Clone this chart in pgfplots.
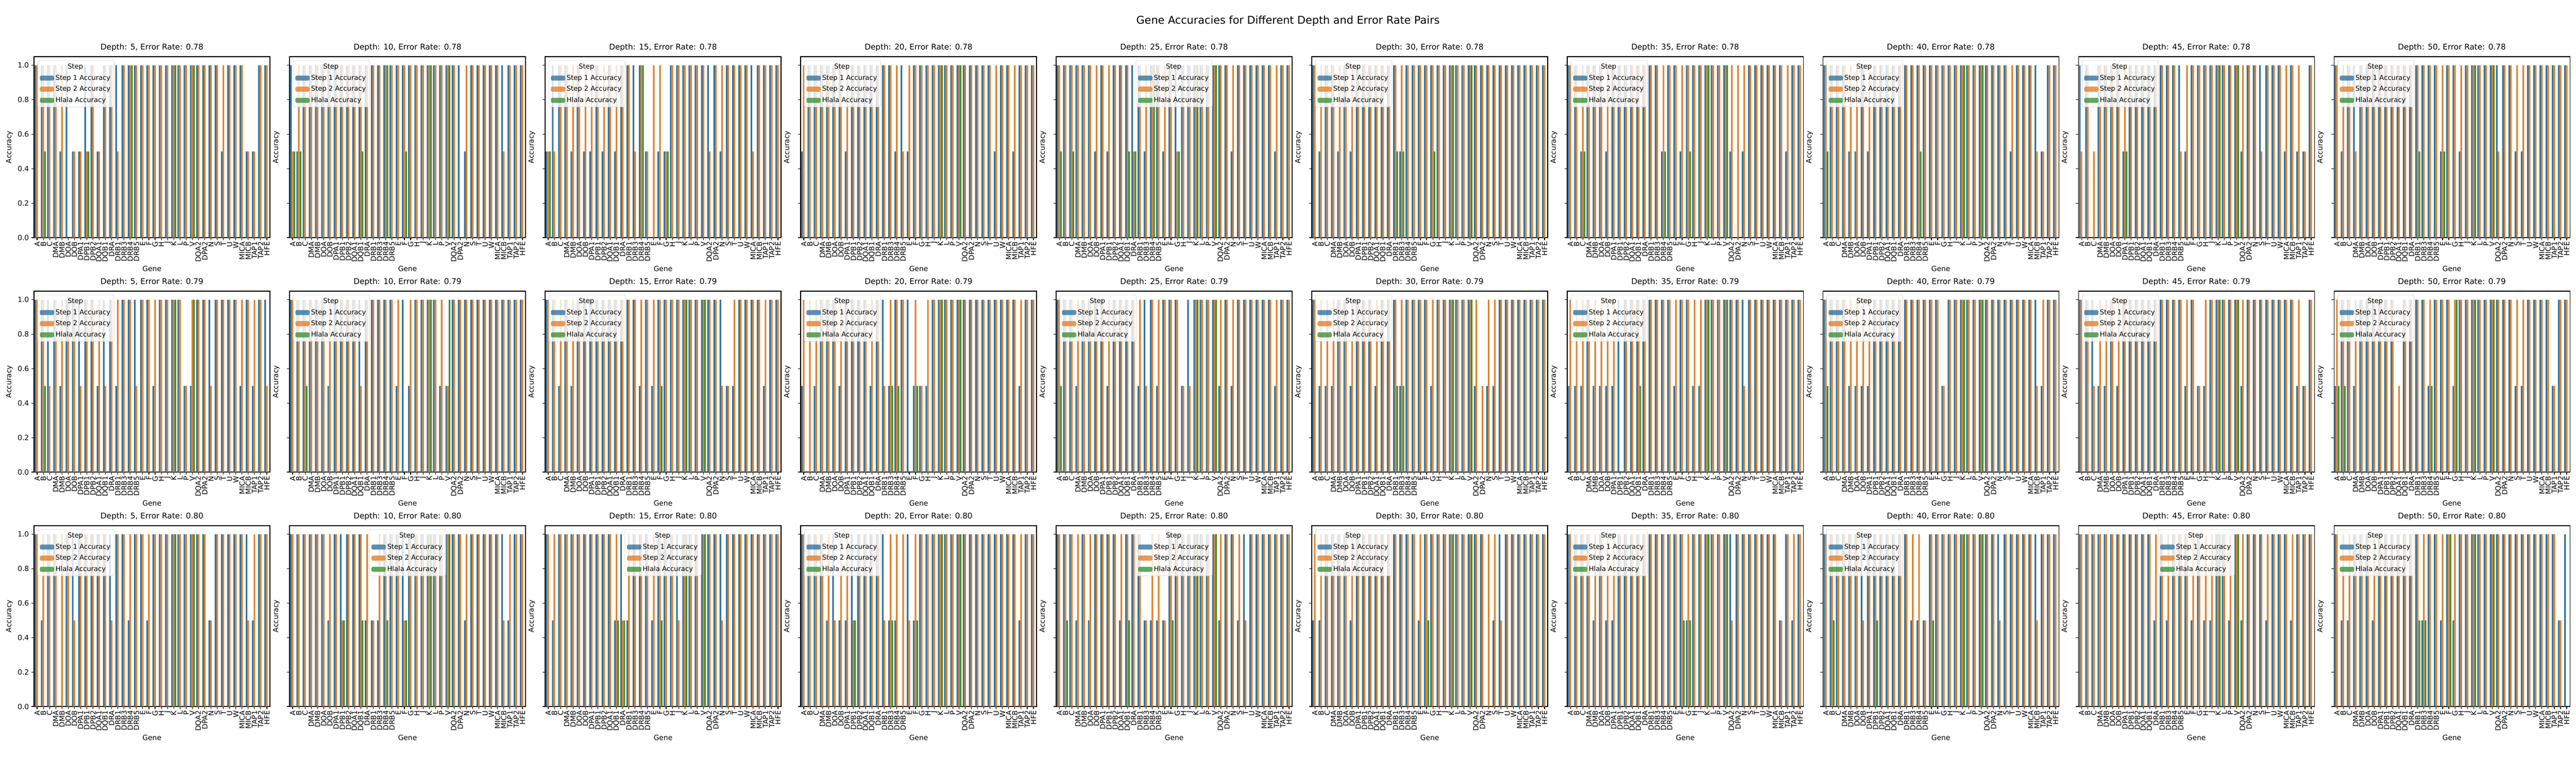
\documentclass[border=0pt]{standalone}
\usepackage{fontspec}
\setmainfont{DejaVu Sans}
\usepackage{pgfplots}
\usepackage{pgfplotstable}
\pgfplotsset{compat=1.18}
\definecolor{c1}{HTML}{3274A1}
\definecolor{c2}{HTML}{E1812C}
\definecolor{c3}{HTML}{3A923A}
\pgfplotsset{
  bleg/.style={legend image code/.code={\fill[##1] (0pt,-3.5pt) rectangle (20pt,3.5pt);}},
  panel/.style={scale only axis, width=331pt, height=253.7pt, anchor=north west,
    ybar, bar width=0.2667, xmin=-0.5, xmax=37.5, ymin=0, ymax=1.05,
    xtick={0,...,37},
    xticklabels={A,B,C,DMA,DMB,DOA,DOB,DPA1,DPB1,DPB2,DQA1,DQB1,DRA,DRB1,DRB3,DRB4,DRB5,E,F,G,H,J,K,L,P,V,DQA2,DPA2,N,S,T,U,W,MICA,MICB,TAP1,TAP2,HFE},
    xticklabel style={rotate=90, anchor=east, font=\fontsize{10}{10}\selectfont, inner sep=2pt},
    ytick={0,0.2,0.4,0.6,0.8,1},
    yticklabel style={font=\fontsize{10}{10}\selectfont, /pgf/number format/fixed, /pgf/number format/fixed zerofill, /pgf/number format/precision=1, /pgf/number format/assume math mode=true},
    tick align=outside, tick pos=left, major tick length=3.5pt,
    major tick style={line width=0.8pt, black}, axis line style={line width=0.8pt},
    xlabel={Gene}, ylabel={Accuracy},
    label style={font=\fontsize{10}{12}\selectfont},
    title style={font=\fontsize{11}{13}\selectfont, yshift=-2pt},
    legend cell align=left,
    legend style={fill=white, fill opacity=0.8, text opacity=1, draw opacity=1,
      draw=black!20, rounded corners=2pt, inner sep=3pt, row sep=3pt,
      font=\fontsize{9.5}{11}\selectfont},
    legend entries={\hspace*{17pt}Step, Step 1 Accuracy, Step 2 Accuracy, Hlala Accuracy},
  },
  legL/.style={legend style={at={(0,1)}, anchor=north west, xshift=5pt, yshift=-5pt}},
  legC/.style={legend style={at={(0.5,1)}, anchor=north, yshift=-5pt}},
  noy/.style={yticklabels={}},
}
\newcommand{\panel}[5]{%
\begin{axis}[panel, at={({(66+496*#1)*0.7227pt},{(1500-(110+455*#2))*0.7227pt})}, title={#4}, #5]
\addlegendimage{empty legend}
\addplot[fill=c1, draw=none, bar shift=-0.2667, bleg] table[x expr=\coordindex, y=a] {#3};
\addplot[fill=c2, draw=none, bar shift=0, bleg] table[x expr=\coordindex, y=b] {#3};
\addplot[fill=c3, draw=none, bar shift=0.2667, bleg] table[x expr=\coordindex, y=h] {#3};
\end{axis}}

% ---------- row 1: error rate 0.78
\pgfplotstableread[row sep=\\]{a b h\\
1 1 0\\ 1 1 .5\\ 1 1 0\\ 1 1 0\\ .5 1 0\\ 1 0 0\\ .5 .5 0\\ .5 .5 0\\ 1 .5 .5\\ 1 1 0\\
.5 .5 0\\ 1 1 0\\ 1 1 0\\ 1 .5 0\\ 1 1 0\\ 1 1 1\\ 1 1 0\\ 1 1 0\\ 1 1 0\\ 1 1 0\\
1 1 0\\ 1 1 0\\ 1 1 1\\ 1 1 0\\ 1 1 0\\ 1 1 1\\ 1 1 0\\ 1 1 0\\ 1 1 0\\ 1 1 0\\
.5 1 0\\ 1 1 0\\ 1 1 0\\ 1 1 0\\ .5 .5 0\\ .5 .5 0\\ 1 1 0\\ 1 1 0\\}\pAa
\pgfplotstableread[row sep=\\]{a b h\\
1 .5 .5\\ .5 1 .5\\ 1 1 0\\ 1 1 0\\ 1 1 0\\ 1 1 0\\ 1 1 0\\ 1 1 0\\ 1 1 0\\ 1 1 0\\
1 1 0\\ 1 1 .5\\ 1 1 0\\ 1 1 0\\ 1 1 0\\ 1 1 1\\ 1 1 0\\ 1 1 0\\ 1 1 .5\\ 1 1 0\\
1 1 0\\ 1 1 0\\ 1 1 1\\ 1 1 0\\ 1 1 0\\ 1 1 1\\ 1 1 0\\ 1 0 0\\ .5 1 0\\ 1 1 0\\
1 1 0\\ 1 1 0\\ 1 1 0\\ 1 1 0\\ 1 .5 0\\ 1 1 0\\ 1 1 0\\ 1 1 0\\}\pAb
\pgfplotstableread[row sep=\\]{a b h\\
.5 .5 .5\\ 1 .5 0\\ 1 1 0\\ 1 1 0\\ .5 1 0\\ 1 1 0\\ .5 1 0\\ .5 1 0\\ 1 1 0\\ .5 1 0\\
1 1 0\\ .5 1 0\\ 1 1 0\\ 1 1 0\\ 1 .5 0\\ 1 1 1\\ .5 .5 0\\ 0 1 0\\ .5 1 0\\ .5 .5 .5\\
1 1 0\\ 1 1 0\\ 1 1 0\\ 1 1 0\\ 1 1 0\\ 1 1 0\\ 1 .5 0\\ 1 1 0\\ .5 1 0\\ 1 1 0\\
1 1 0\\ 1 1 0\\ 1 1 0\\ 1 .5 0\\ 1 1 0\\ 1 1 0\\ 1 1 0\\ 1 1 0\\}\pAc
\pgfplotstableread[row sep=\\]{a b h\\
.5 1 0\\ 1 1 0\\ 1 1 0\\ 1 1 0\\ 1 1 0\\ 1 1 0\\ 1 1 0\\ .5 1 0\\ 1 1 0\\ 1 1 0\\
1 1 0\\ 1 1 0\\ 1 1 0\\ 1 1 0\\ 1 1 0\\ .5 1 0\\ 1 .5 0\\ .5 1 0\\ 1 1 0\\ 1 1 0\\
1 1 0\\ 1 1 0\\ 1 1 1\\ 1 1 0\\ 1 1 0\\ 1 1 1\\ 1 1 0\\ 1 1 0\\ 1 1 0\\ 1 1 0\\
1 1 0\\ .5 1 0\\ 1 1 0\\ 1 1 0\\ .5 1 0\\ 1 1 0\\ 1 1 0\\ 1 1 0\\}\pAd
\pgfplotstableread[row sep=\\]{a b h\\
1 1 .5\\ 1 1 0\\ 1 1 .5\\ 1 1 0\\ 1 1 0\\ 1 1 0\\ .5 1 0\\ 1 1 0\\ .5 1 0\\ 1 1 0\\
1 1 0\\ 1 1 .5\\ 1 .5 .5\\ 1 1 0\\ .5 1 0\\ 1 1 1\\ 1 1 0\\ .5 1 0\\ 1 1 0\\ 1 .5 .5\\
1 1 0\\ 1 1 0\\ 1 1 1\\ 1 1 0\\ 1 1 0\\ 1 1 1\\ 1 1 0\\ 1 1 0\\ .5 1 0\\ 1 1 0\\
1 1 0\\ 1 1 0\\ 1 1 0\\ 1 1 0\\ 1 1 0\\ .5 1 0\\ 1 1 0\\ 1 1 0\\}\pAe
\pgfplotstableread[row sep=\\]{a b h\\
1 1 0\\ .5 1 0\\ 1 1 0\\ 1 1 0\\ .5 1 0\\ 1 1 0\\ .5 1 0\\ 1 1 0\\ 1 1 0\\ 1 1 0\\
1 1 0\\ 1 1 0\\ 1 1 0\\ 1 1 .5\\ .5 1 .5\\ 1 1 0\\ 1 1 0\\ 1 1 0\\ 1 1 0\\ 1 1 .5\\
1 1 0\\ 1 1 0\\ 1 1 1\\ 1 1 0\\ 1 1 0\\ 1 1 1\\ 1 1 0\\ 1 1 0\\ 1 1 0\\ 1 1 0\\
1 1 0\\ 1 1 0\\ 1 1 0\\ 1 1 0\\ 1 1 0\\ 1 1 0\\ 1 1 0\\ 1 1 0\\}\pAf
\pgfplotstableread[row sep=\\]{a b h\\
1 1 0\\ 1 1 0\\ .5 1 .5\\ 1 1 0\\ 1 1 0\\ 1 1 0\\ .5 1 0\\ 1 1 0\\ 1 1 0\\ 1 1 0\\
1 1 0\\ 1 1 0\\ 1 1 0\\ 1 1 0\\ 1 1 0\\ .5 1 .5\\ 1 1 0\\ 1 1 0\\ .5 1 0\\ 1 1 .5\\
1 1 0\\ 1 1 0\\ 1 1 1\\ 1 1 0\\ 1 1 0\\ 1 1 1\\ .5 1 0\\ 0 1 0\\ .5 1 0\\ 1 1 0\\
1 1 0\\ 1 1 0\\ 1 1 0\\ 1 1 0\\ 1 1 0\\ .5 1 0\\ 1 1 0\\ 1 1 0\\}\pAg
\pgfplotstableread[row sep=\\]{a b h\\
1 1 .5\\ 1 1 0\\ 1 1 0\\ 1 1 0\\ .5 1 0\\ .5 1 0\\ 1 1 0\\ .5 1 0\\ 1 1 0\\ 1 1 0\\
1 1 0\\ 1 1 0\\ 1 1 0\\ 1 1 0\\ 1 1 0\\ 1 1 .5\\ 1 1 0\\ 1 1 0\\ 1 1 0\\ 1 1 0\\
1 1 0\\ 1 1 0\\ 1 1 1\\ 1 1 0\\ 1 1 0\\ 1 1 1\\ 1 1 0\\ 1 1 0\\ 1 1 0\\ 1 1 0\\
.5 1 0\\ 1 1 0\\ 1 1 0\\ 1 1 0\\ 1 .5 0\\ .5 .5 0\\ 1 1 0\\ 1 1 0\\}\pAh
\pgfplotstableread[row sep=\\]{a b h\\
1 .5 0\\ 1 1 0\\ 0 .5 0\\ 1 1 0\\ 1 1 0\\ 1 1 0\\ 1 1 0\\ .5 1 .5\\ 1 1 0\\ 1 1 0\\
1 1 0\\ 1 1 0\\ 1 1 0\\ 1 1 0\\ 1 1 0\\ 1 1 0\\ 1 .5 0\\ .5 1 0\\ 1 1 0\\ 1 1 0\\
1 1 0\\ 1 1 0\\ 1 1 1\\ 1 1 0\\ 1 1 0\\ 1 1 1\\ .5 1 0\\ 1 1 0\\ 1 1 0\\ 1 .5 0\\
1 1 0\\ 1 1 0\\ 1 1 0\\ .5 1 0\\ 1 1 0\\ .5 1 0\\ .5 .5 0\\ 1 1 0\\}\pAi
\pgfplotstableread[row sep=\\]{a b h\\
1 1 0\\ .5 1 0\\ 1 1 0\\ 1 .5 0\\ 1 1 0\\ 1 1 0\\ 1 1 0\\ 1 1 0\\ 1 1 0\\ 1 1 0\\
1 1 0\\ 1 1 0\\ 1 1 0\\ 1 1 .5\\ 1 1 0\\ 1 1 0\\ 1 1 0\\ .5 1 .5\\ 1 1 0\\ 1 1 0\\
.5 1 0\\ 1 1 0\\ 1 1 1\\ 1 1 0\\ 1 1 0\\ 1 1 1\\ 1 .5 0\\ 1 1 0\\ 1 1 0\\ .5 1 0\\
.5 1 0\\ 1 1 0\\ 1 1 0\\ 1 1 0\\ 1 1 0\\ 1 1 0\\ 1 1 0\\ 1 1 0\\}\pAj

% ---------- row 2: error rate 0.79
\pgfplotstableread[row sep=\\]{a b h\\
1 1 0\\ 1 1 .5\\ 1 .5 0\\ 1 1 0\\ .5 1 0\\ 1 1 0\\ 1 1 0\\ 1 .5 0\\ 1 1 0\\ 1 1 0\\
.5 1 0\\ 1 .5 0\\ 1 1 0\\ .5 1 0\\ 1 1 0\\ 1 1 0\\ 1 .5 0\\ 1 1 0\\ 1 1 0\\ .5 1 0\\
1 1 0\\ 1 1 0\\ 1 1 1\\ 1 1 0\\ .5 .5 0\\ .5 1 1\\ 1 1 0\\ 1 1 0\\ 1 .5 0\\ 1 1 0\\
1 1 0\\ 1 1 0\\ 1 1 0\\ .5 1 0\\ 1 1 0\\ .5 1 0\\ 1 1 0\\ 1 .5 0\\}\pBa
\pgfplotstableread[row sep=\\]{a b h\\
1 1 0\\ 1 1 0\\ 1 1 .5\\ 1 1 0\\ 1 1 0\\ 1 1 0\\ .5 1 0\\ 1 1 0\\ 1 1 0\\ 1 1 0\\
1 1 0\\ 1 .5 0\\ 1 1 0\\ 1 1 0\\ 1 1 0\\ 1 1 0\\ 1 1 0\\ .5 1 0\\ 1 0 0\\ .5 1 0\\
1 1 0\\ 1 1 0\\ 1 1 1\\ 1 1 0\\ .5 1 0\\ .5 .5 1\\ 1 1 0\\ 1 1 0\\ 1 1 0\\ 1 1 0\\
1 1 0\\ 1 1 0\\ 1 1 0\\ 1 1 0\\ 1 1 0\\ 1 1 0\\ 1 1 0\\ 1 1 0\\}\pBb
\pgfplotstableread[row sep=\\]{a b h\\
1 1 0\\ 1 1 0\\ .5 1 0\\ 1 1 0\\ .5 1 0\\ 1 1 0\\ 1 1 0\\ 1 1 0\\ 1 1 0\\ 1 1 0\\
1 1 0\\ 1 1 0\\ 1 1 0\\ 1 1 0\\ 1 1 0\\ .5 1 0\\ 1 1 0\\ .5 1 0\\ 1 1 .5\\ 1 1 0\\
1 1 0\\ 1 1 0\\ 1 1 1\\ 1 1 0\\ 1 1 0\\ 1 1 1\\ 1 1 0\\ 1 1 0\\ 1 .5 0\\ .5 .5 0\\
.5 1 0\\ 1 1 0\\ 1 1 0\\ 1 1 0\\ 1 1 0\\ .5 1 0\\ 1 1 0\\ 1 1 0\\}\pBc
\pgfplotstableread[row sep=\\]{a b h\\
.5 1 0\\ 0 1 0\\ .5 1 0\\ 1 1 0\\ 1 1 0\\ 1 1 0\\ .5 1 0\\ 1 1 0\\ 1 1 0\\ 1 1 0\\
1 1 0\\ .5 1 0\\ 1 1 0\\ 1 .5 0\\ .5 1 .5\\ 1 1 .5\\ 1 1 0\\ 1 0 0\\ .5 1 .5\\ .5 .5 0\\
.5 1 0\\ 1 1 0\\ 1 1 1\\ 1 1 0\\ 1 1 0\\ 1 1 1\\ 1 1 0\\ 1 1 0\\ 1 1 0\\ 1 1 0\\
1 1 0\\ 1 1 0\\ 1 1 0\\ 1 1 0\\ 1 1 0\\ .5 1 0\\ 1 1 0\\ 1 1 0\\}\pBd
\pgfplotstableread[row sep=\\]{a b h\\
1 1 .5\\ 1 1 0\\ 1 1 0\\ .5 1 0\\ 1 1 0\\ 1 1 0\\ 1 1 0\\ 1 1 0\\ .5 1 0\\ 1 1 0\\
1 1 0\\ 1 1 0\\ 1 1 0\\ .5 1 0\\ 1 .5 0\\ 1 1 0\\ .5 1 0\\ 1 1 0\\ 1 1 0\\ 1 1 0\\
.5 .5 0\\ 1 .5 0\\ 1 1 1\\ 1 1 0\\ 1 1 0\\ 1 1 1\\ .5 1 0\\ 1 1 0\\ .5 1 0\\ 1 1 0\\
1 1 0\\ 1 1 0\\ 1 1 0\\ 1 1 0\\ 1 1 0\\ .5 1 0\\ 1 1 0\\ 1 1 0\\}\pBe
\pgfplotstableread[row sep=\\]{a b h\\
1 1 0\\ .5 1 0\\ .5 1 0\\ .5 1 0\\ 1 1 0\\ 1 1 0\\ .5 1 0\\ 1 1 0\\ 1 1 0\\ 1 1 0\\
.5 1 0\\ 1 1 0\\ 1 1 0\\ 1 1 .5\\ .5 1 .5\\ 1 1 0\\ 1 1 0\\ 1 1 0\\ 1 1 0\\ .5 1 0\\
1 1 0\\ 1 1 0\\ 1 1 1\\ 1 1 0\\ 1 1 0\\ 1 1 1\\ .5 1 0\\ 0 .5 0\\ .5 1 0\\ .5 1 0\\
1 1 0\\ 1 1 0\\ 1 1 0\\ 1 1 0\\ 1 1 0\\ 1 1 0\\ 1 1 0\\ 1 1 0\\}\pBf
\pgfplotstableread[row sep=\\]{a b h\\
.5 1 0\\ .5 1 0\\ .5 1 0\\ 1 1 0\\ .5 1 0\\ .5 1 0\\ .5 1 0\\ .5 1 0\\ 1 0 0\\ 1 1 0\\
1 1 0\\ 1 1 .5\\ 1 1 0\\ 1 1 0\\ 1 1 0\\ 1 1 0\\ 1 1 0\\ .5 1 0\\ 1 1 0\\ 1 1 0\\
.5 1 0\\ .5 1 0\\ 1 1 1\\ 1 1 0\\ 1 1 0\\ 1 1 1\\ 1 1 0\\ 1 1 0\\ 1 .5 0\\ 1 1 0\\
1 1 0\\ 1 1 0\\ 1 1 0\\ 1 1 0\\ 1 1 0\\ 1 1 0\\ 1 1 0\\ 1 1 0\\}\pBg
\pgfplotstableread[row sep=\\]{a b h\\
1 1 .5\\ 1 1 0\\ 1 1 0\\ 1 1 0\\ .5 1 0\\ .5 1 0\\ .5 1 0\\ .5 1 0\\ 1 1 0\\ 1 1 0\\
1 1 0\\ 1 1 0\\ 1 1 0\\ 1 1 0\\ 1 1 0\\ 1 1 0\\ 1 1 0\\ 1 1 0\\ 1 1 0\\ .5 .5 0\\
1 1 0\\ 1 1 0\\ 1 1 1\\ 1 1 0\\ 1 1 0\\ 1 1 1\\ 1 1 0\\ 1 1 0\\ 1 1 0\\ 1 1 0\\
1 1 0\\ 1 1 0\\ 1 1 0\\ 1 1 0\\ 1 .5 0\\ .5 1 0\\ 1 1 0\\ 1 1 0\\}\pBh
\pgfplotstableread[row sep=\\]{a b h\\
1 1 0\\ 1 1 0\\ 1 .5 0\\ .5 1 0\\ .5 1 0\\ 1 1 0\\ .5 1 0\\ 1 1 0\\ 1 1 0\\ 1 1 0\\
1 1 0\\ 1 1 0\\ 1 1 0\\ 1 1 0\\ 1 1 0\\ 1 1 0\\ 1 1 0\\ .5 1 0\\ 1 1 0\\ .5 .5 0\\
.5 1 0\\ 1 1 0\\ 1 1 1\\ 1 1 0\\ 1 1 0\\ 1 1 1\\ .5 1 0\\ 1 1 0\\ 1 1 0\\ 1 1 0\\
1 1 0\\ 1 1 0\\ 1 1 0\\ 1 1 0\\ 1 1 0\\ .5 1 0\\ .5 .5 0\\ 1 1 0\\}\pBi
\pgfplotstableread[row sep=\\]{a b h\\
.5 1 .5\\ 1 1 .5\\ 1 1 0\\ .5 1 0\\ 1 1 0\\ 1 1 0\\ 1 1 0\\ 1 1 0\\ 1 1 0\\ 1 1 0\\
0 .5 0\\ 1 1 0\\ 1 1 0\\ 1 1 0\\ 1 1 0\\ .5 1 .5\\ 1 1 0\\ 1 1 0\\ 1 1 0\\ .5 1 1\\
1 1 0\\ 1 1 0\\ 1 1 1\\ 1 1 0\\ 1 1 0\\ 1 1 1\\ 1 1 0\\ 1 1 0\\ 1 1 0\\ .5 1 0\\
.5 1 0\\ 1 1 0\\ 1 1 0\\ 1 1 0\\ 1 1 0\\ .5 .5 0\\ 1 1 0\\ 1 1 0\\}\pBj

% ---------- row 3: error rate 0.80
\pgfplotstableread[row sep=\\]{a b h\\
1 1 0\\ .5 1 0\\ 1 1 0\\ 1 1 0\\ 0 1 0\\ 1 1 0\\ 1 .5 0\\ 1 1 0\\ 1 1 0\\ 1 1 0\\
1 1 0\\ 1 1 0\\ 1 .5 0\\ 1 1 0\\ 1 1 0\\ .5 1 0\\ 1 1 0\\ 1 1 0\\ .5 1 0\\ 1 1 0\\
1 1 0\\ 1 1 0\\ 1 1 1\\ 1 1 0\\ 1 1 0\\ 1 1 1\\ 1 1 0\\ 1 1 0\\ .5 .5 0\\ 1 1 0\\
1 1 0\\ 1 1 0\\ 1 1 0\\ 1 1 0\\ 1 .5 0\\ .5 1 0\\ 1 1 0\\ 1 1 0\\}\pCa
\pgfplotstableread[row sep=\\]{a b h\\
1 1 0\\ 1 1 0\\ 1 1 0\\ 1 1 0\\ 1 1 0\\ 1 1 0\\ .5 1 0\\ 1 1 0\\ 1 .5 .5\\ 1 1 0\\
1 1 0\\ 1 1 .5\\ .5 1 0\\ .5 .5 0\\ .5 1 0\\ 1 1 .5\\ 1 1 0\\ 1 1 0\\ 1 .5 .5\\ 1 1 0\\
1 1 0\\ 1 1 0\\ 1 1 1\\ 1 1 0\\ 1 1 0\\ 1 1 1\\ 1 1 0\\ 1 1 0\\ .5 1 0\\ 1 1 0\\
1 1 0\\ 1 1 0\\ 1 1 0\\ 1 1 0\\ 1 .5 0\\ .5 1 0\\ 1 1 0\\ 1 1 0\\}\pCb
\pgfplotstableread[row sep=\\]{a b h\\
1 1 0\\ .5 1 0\\ 1 1 0\\ 1 1 0\\ 1 1 0\\ 1 1 0\\ 1 1 0\\ 1 1 0\\ 1 1 0\\ 1 1 0\\
1 1 0\\ .5 1 .5\\ 1 .5 .5\\ .5 1 0\\ 1 1 0\\ 1 1 0\\ 1 1 0\\ .5 1 0\\ 1 1 .5\\ 1 1 0\\
1 1 0\\ 1 .5 0\\ 1 1 1\\ 1 1 0\\ 1 1 0\\ 1 1 1\\ 1 1 0\\ 1 1 0\\ 1 .5 0\\ 1 1 0\\
1 1 0\\ 1 1 0\\ 1 1 0\\ 1 1 0\\ 1 1 0\\ 1 1 0\\ 1 1 0\\ 1 1 0\\}\pCc
\pgfplotstableread[row sep=\\]{a b h\\
1 1 0\\ 1 1 0\\ 1 1 0\\ 1 1 0\\ .5 1 0\\ 1 .5 0\\ .5 1 0\\ .5 1 0\\ 1 .5 .5\\ 1 1 0\\
1 1 0\\ 1 1 0\\ 1 1 0\\ 1 .5 0\\ .5 1 .5\\ .5 1 0\\ 0 1 0\\ 1 .5 0\\ .5 1 .5\\ 1 1 0\\
1 1 0\\ 1 1 0\\ 1 1 1\\ 1 1 0\\ 1 1 0\\ 1 1 1\\ 1 1 0\\ 1 1 0\\ 1 1 0\\ 1 1 0\\
1 1 0\\ 1 1 0\\ 1 1 0\\ 1 1 0\\ 1 1 0\\ .5 1 0\\ 1 1 0\\ 1 1 0\\}\pCd
\pgfplotstableread[row sep=\\]{a b h\\
1 1 0\\ 1 1 .5\\ 1 1 0\\ .5 1 0\\ 1 1 0\\ .5 1 0\\ 1 1 0\\ 1 1 0\\ 1 1 0\\ 1 1 0\\
.5 1 0\\ 1 1 .5\\ 1 1 0\\ 1 1 0\\ .5 .5 0\\ .5 1 0\\ .5 1 0\\ .5 .5 0\\ 1 1 .5\\ 1 1 0\\
1 1 0\\ 1 1 0\\ 1 1 1\\ 1 1 0\\ 1 1 0\\ 1 1 1\\ .5 1 0\\ 1 1 0\\ 1 1 0\\ .5 1 0\\
1 .5 0\\ 1 1 0\\ 1 1 0\\ 1 1 0\\ 1 1 0\\ 1 1 0\\ 1 1 0\\ 1 1 0\\}\pCe
\pgfplotstableread[row sep=\\]{a b h\\
.5 1 0\\ .5 1 0\\ 1 1 0\\ 1 1 0\\ 1 1 0\\ 1 1 0\\ .5 1 0\\ 1 1 0\\ 1 1 0\\ 1 1 0\\
1 1 0\\ 1 1 0\\ 1 1 0\\ 1 1 0\\ 1 1 0\\ 1 1 0\\ 1 1 0\\ .5 1 0\\ 1 1 .5\\ 1 1 0\\
1 1 0\\ 1 1 0\\ 1 1 1\\ 1 1 0\\ 1 1 0\\ 1 1 1\\ 1 1 0\\ 1 1 0\\ 0 1 0\\ .5 1 0\\
1 .5 0\\ 1 1 0\\ 1 1 0\\ 1 1 0\\ 1 1 0\\ 1 1 0\\ 1 1 0\\ 1 1 0\\}\pCf
\pgfplotstableread[row sep=\\]{a b h\\
1 1 0\\ 1 1 0\\ 1 1 0\\ 1 1 0\\ .5 1 0\\ 1 1 0\\ .5 1 0\\ .5 1 0\\ 1 1 0\\ 1 1 0\\
1 1 0\\ 1 1 0\\ 1 1 0\\ 1 1 0\\ 1 1 0\\ 1 1 0\\ 1 1 0\\ 1 1 0\\ 1 1 .5\\ .5 1 .5\\
1 1 0\\ 1 1 0\\ 1 1 1\\ 1 1 0\\ 1 1 0\\ 1 1 1\\ 1 .5 0\\ 1 1 0\\ 1 1 0\\ 1 1 0\\
1 1 0\\ 1 1 0\\ 1 1 0\\ 1 1 0\\ .5 .5 0\\ 1 1 0\\ .5 1 0\\ 1 1 0\\}\pCg
\pgfplotstableread[row sep=\\]{a b h\\
1 1 0\\ 1 1 .5\\ 1 1 0\\ 1 1 0\\ 1 1 0\\ 1 1 0\\ 1 .5 0\\ 1 1 0\\ 1 1 .5\\ 1 1 0\\
1 1 0\\ 1 1 0\\ 1 1 0\\ 1 1 0\\ .5 1 0\\ .5 1 0\\ .5 .5 0\\ 1 1 .5\\ 1 1 0\\ 1 1 0\\
1 1 0\\ 1 1 0\\ 1 1 1\\ 1 1 0\\ 1 1 0\\ 1 1 1\\ 1 1 0\\ 1 1 0\\ 1 .5 0\\ 1 1 0\\
1 1 0\\ 1 1 0\\ 1 1 0\\ 1 1 0\\ 1 .5 0\\ 1 1 0\\ 1 1 0\\ 1 1 0\\}\pCh
\pgfplotstableread[row sep=\\]{a b h\\
1 1 0\\ 1 1 0\\ 1 1 0\\ 1 1 0\\ 1 1 0\\ 1 1 0\\ 1 1 0\\ 1 1 0\\ 1 1 0\\ 1 1 0\\
1 1 0\\ 1 1 0\\ .5 1 0\\ 1 1 0\\ .5 1 0\\ 1 1 0\\ 1 1 0\\ 1 1 0\\ .5 1 0\\ 1 1 0\\
.5 1 0\\ .5 1 0\\ 1 1 1\\ 1 1 0\\ .5 1 0\\ 1 1 1\\ .5 1 0\\ 1 1 0\\ 1 1 0\\ 1 1 0\\
.5 1 0\\ 1 1 0\\ 1 1 0\\ 1 1 0\\ .5 1 0\\ 1 1 0\\ 1 1 0\\ 1 1 0\\}\pCi
\pgfplotstableread[row sep=\\]{a b h\\
1 1 0\\ .5 1 0\\ .5 1 0\\ 1 1 0\\ 1 1 0\\ 1 1 0\\ .5 1 0\\ 1 1 0\\ 1 1 0\\ 1 1 0\\
1 1 0\\ 1 1 0\\ 1 1 0\\ 1 1 .5\\ .5 1 .5\\ 1 1 0\\ 1 1 0\\ .5 1 0\\ 1 1 1\\ .5 1 0\\
1 1 0\\ 1 1 0\\ 1 1 1\\ 1 1 0\\ 1 1 0\\ 1 1 1\\ 1 1 0\\ 1 1 0\\ 1 1 0\\ 1 1 0\\
1 1 0\\ 1 1 0\\ 1 1 0\\ 1 1 0\\ 1 1 0\\ 1 1 0\\ .5 .5 0\\ 1 0 0\\}\pCj

\begin{document}
\begin{tikzpicture}
\path[use as bounding box] (0,0) rectangle (3613.5pt,1084.05pt);
\node[font=\fontsize{15}{18}\selectfont] at (1806.75pt,1054.4pt) {Gene Accuracies for Different Depth and Error Rate Pairs};
% row 1
\panel{0}{0}{\pAa}{Depth: 5, Error Rate: 0.78}{legL}
\panel{1}{0}{\pAb}{Depth: 10, Error Rate: 0.78}{legL,noy}
\panel{2}{0}{\pAc}{Depth: 15, Error Rate: 0.78}{legL,noy}
\panel{3}{0}{\pAd}{Depth: 20, Error Rate: 0.78}{legL,noy}
\panel{4}{0}{\pAe}{Depth: 25, Error Rate: 0.78}{legC,noy}
\panel{5}{0}{\pAf}{Depth: 30, Error Rate: 0.78}{legL,noy}
\panel{6}{0}{\pAg}{Depth: 35, Error Rate: 0.78}{legL,noy}
\panel{7}{0}{\pAh}{Depth: 40, Error Rate: 0.78}{legL,noy}
\panel{8}{0}{\pAi}{Depth: 45, Error Rate: 0.78}{legL,noy}
\panel{9}{0}{\pAj}{Depth: 50, Error Rate: 0.78}{legL,noy}
% row 2
\panel{0}{1}{\pBa}{Depth: 5, Error Rate: 0.79}{legL}
\panel{1}{1}{\pBb}{Depth: 10, Error Rate: 0.79}{legL,noy}
\panel{2}{1}{\pBc}{Depth: 15, Error Rate: 0.79}{legL,noy}
\panel{3}{1}{\pBd}{Depth: 20, Error Rate: 0.79}{legL,noy}
\panel{4}{1}{\pBe}{Depth: 25, Error Rate: 0.79}{legL,noy}
\panel{5}{1}{\pBf}{Depth: 30, Error Rate: 0.79}{legL,noy}
\panel{6}{1}{\pBg}{Depth: 35, Error Rate: 0.79}{legL,noy}
\panel{7}{1}{\pBh}{Depth: 40, Error Rate: 0.79}{legL,noy}
\panel{8}{1}{\pBi}{Depth: 45, Error Rate: 0.79}{legL,noy}
\panel{9}{1}{\pBj}{Depth: 50, Error Rate: 0.79}{legL,noy}
% row 3
\panel{0}{2}{\pCa}{Depth: 5, Error Rate: 0.80}{legL}
\panel{1}{2}{\pCb}{Depth: 10, Error Rate: 0.80}{legC,noy}
\panel{2}{2}{\pCc}{Depth: 15, Error Rate: 0.80}{legC,noy}
\panel{3}{2}{\pCd}{Depth: 20, Error Rate: 0.80}{legL,noy}
\panel{4}{2}{\pCe}{Depth: 25, Error Rate: 0.80}{legC,noy}
\panel{5}{2}{\pCf}{Depth: 30, Error Rate: 0.80}{legL,noy}
\panel{6}{2}{\pCg}{Depth: 35, Error Rate: 0.80}{legL,noy}
\panel{7}{2}{\pCh}{Depth: 40, Error Rate: 0.80}{legL,noy}
\panel{8}{2}{\pCi}{Depth: 45, Error Rate: 0.80}{legC,noy}
\panel{9}{2}{\pCj}{Depth: 50, Error Rate: 0.80}{legL,noy}
\end{tikzpicture}
\end{document}
